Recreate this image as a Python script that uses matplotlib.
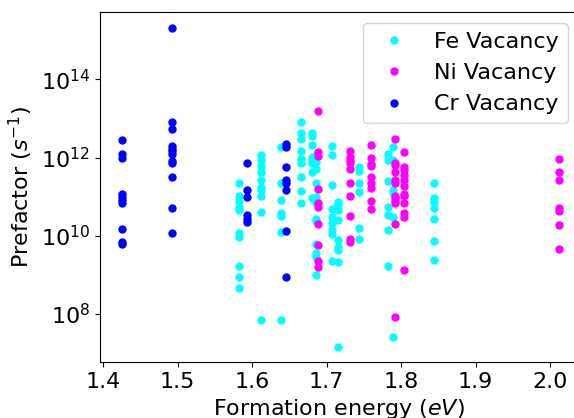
import numpy as np
import matplotlib
matplotlib.use("Agg")
import matplotlib.pyplot as plt
from matplotlib.ticker import NullLocator


# Formation energy (eV) and log10 of prefactor (s^-1)
fe_x = ([1.582] * 10 + [1.612] * 10 + [1.639] * 7 + [1.666] * 9 + [1.680] * 8
        + [1.686] * 13 + [1.707] * 9 + [1.715] * 9 + [1.744] * 6 + [1.782] * 7
        + [1.789] * 6 + [1.844] * 7)
fe_logy = [11.36, 11.02, 10.90, 10.73, 10.66, 10.06, 9.97, 9.22, 8.95, 8.66,
           12.06, 11.94, 11.78, 11.64, 11.42, 11.24, 11.17, 11.02, 10.61, 7.84,
           12.28, 11.36, 10.91, 10.59, 10.50, 10.10, 7.84,
           12.90, 12.63, 12.47, 12.16, 11.95, 11.87, 11.49, 11.14, 10.84,
           12.63, 12.56, 12.32, 12.02, 11.94, 11.87, 11.64, 10.96,
           12.06, 11.89, 11.71, 11.34, 11.00, 10.91, 10.83, 10.44, 10.38, 9.79, 9.55, 9.46, 8.99,
           12.30, 12.06, 11.31, 10.68, 10.49, 10.32, 10.15, 10.04, 9.36,
           10.87, 10.79, 10.66, 10.40, 9.89, 9.72, 9.63, 9.32, 7.16,
           11.76, 11.65, 11.34, 11.13, 10.19, 9.91,
           12.09, 11.94, 11.41, 10.74, 10.53, 10.15, 9.23,
           12.28, 11.94, 11.17, 11.10, 10.47, 7.42,
           11.36, 10.96, 10.87, 10.70, 10.42, 9.87, 9.37]

ni_x = ([1.688] * 10 + [1.731] * 10 + [1.760] * 9 + [1.792] * 12
        + [1.804] * 12 + [2.012] * 7)
ni_logy = [13.20, 12.15, 12.04, 11.19, 10.83, 10.73, 10.30, 9.76, 9.36, 9.19,
           12.17, 12.02, 11.94, 11.85, 11.71, 11.34, 11.02, 10.51, 9.92, 9.83,
           12.32, 11.99, 11.83, 11.78, 11.51, 11.34, 11.23, 10.89, 10.69,
           12.47, 11.87, 11.81, 11.64, 11.42, 11.36, 11.02, 10.96, 10.89, 10.83, 10.30, 7.91,
           12.13, 11.76, 11.68, 11.55, 11.42, 11.27, 11.08, 11.02, 10.84, 10.59, 10.49, 9.12,
           11.95, 11.63, 11.42, 10.72, 10.63, 10.27, 9.65]

cr_x = [1.425] * 10 + [1.493] * 12 + [1.5925] * 6 + [1.646] * 8
cr_logy = [12.45, 12.09, 12.00, 11.08, 11.00, 10.91, 10.83, 10.17, 9.85, 9.79,
           15.32, 12.92, 12.72, 12.29, 12.23, 12.17, 12.09, 11.92, 11.87, 11.49, 10.72, 10.08,
           11.87, 11.17, 11.00, 10.53, 10.44, 10.35,
           12.34, 12.26, 11.76, 11.42, 11.34, 11.17, 10.13, 8.95]

series = [
    ("Fe Vacancy", fe_x, fe_logy, "cyan"),
    ("Ni Vacancy", ni_x, ni_logy, "magenta"),
    ("Cr Vacancy", cr_x, cr_logy, "blue"),
]


def main():
    fig = plt.figure(figsize=(5.74, 4.18), dpi=100)
    # the axes run slightly past the right edge of the image, as in the original crop
    ax = fig.add_axes([0.174, 0.134, 0.8345, 0.837])

    for label, xs, logy, color in series:
        ax.plot(xs, 10 ** np.array(logy), "o", markersize=5, color=color, label=label)

    ax.set_yscale("log")
    ax.set_xlim(1.3956, 2.0385)
    ax.set_ylim(10 ** 6.77, 10 ** 15.72)
    ax.set_xticks([1.4, 1.5, 1.6, 1.7, 1.8, 1.9, 2.0])
    ax.set_yticks([1e8, 1e10, 1e12, 1e14])
    ax.yaxis.set_minor_locator(NullLocator())
    ax.tick_params(labelsize=16)

    ax.set_xlabel("Formation energy ($eV$)", fontsize=16)
    ax.set_ylabel("Prefactor ($s^{-1}$)", fontsize=16)
    ax.legend(loc="upper right", fontsize=16)

    fig.savefig("out.png", dpi=100)


if __name__ == "__main__":
    main()
